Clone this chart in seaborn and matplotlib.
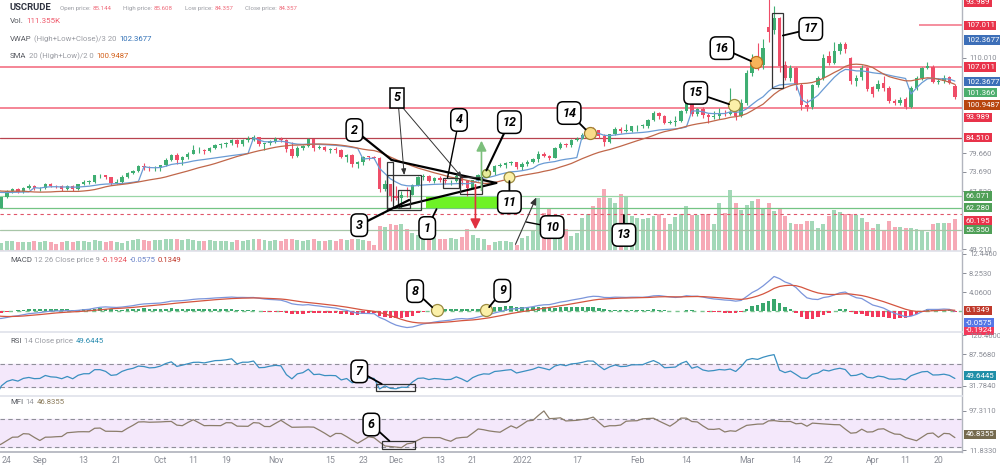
import numpy as np
import pandas as pd
import matplotlib
matplotlib.use("Agg")
import matplotlib.pyplot as plt
import matplotlib.transforms as mtransforms
from matplotlib.patches import Rectangle
import seaborn as sns

# ---------------- data ----------------
# history just before the visible window (only feeds indicator warm-up)
pre_dates = pd.bdate_range("2021-08-02", "2021-08-20")
pre_opens = [73.60, 71.26, 70.56, 68.15, 69.09, 68.28, 66.48, 68.29, 69.25, 69.09, 68.44, 67.29, 66.59, 65.46, 63.50]
pre_highs = [73.80, 71.60, 70.90, 69.50, 69.50, 68.30, 68.50, 69.50, 69.60, 69.10, 68.50, 67.60, 67.10, 65.60, 63.90]
pre_lows = [70.80, 70.20, 67.80, 67.80, 67.90, 65.20, 66.40, 68.00, 68.50, 68.00, 66.40, 66.30, 65.00, 62.90, 61.70]
pre_closes = [71.26, 70.56, 68.15, 69.09, 68.28, 66.48, 68.29, 69.25, 69.09, 68.44, 67.29, 66.59, 65.46, 63.50, 62.32]
pre_volumes = [22, 20, 24, 22, 20, 24, 22, 20, 18, 18, 20, 20, 22, 24, 26]

dates = pd.bdate_range("2021-08-23", "2022-04-25")
dates = dates[dates != pd.Timestamp("2022-04-15")]

opens = [
    62.30, 65.64, 67.54, 68.36, 67.42, 68.74, 69.21,
    68.50, 68.59, 69.99, 69.29, 69.10, 68.35, 69.30, 68.14, 69.72, 70.45, 70.46, 72.61, 72.61, 71.97, 70.29, 70.56, 72.23, 73.30, 73.98, 75.45, 75.29, 74.83,
    75.03, 75.88, 77.62, 78.93, 77.43, 78.30, 79.35, 80.52, 80.64, 80.44, 81.31, 82.28, 82.44, 82.96, 83.87, 82.50, 83.76, 83.76, 84.65, 82.66, 82.81,
    83.57, 84.05, 83.91, 80.86, 78.81, 81.27, 81.93, 84.15, 81.34, 81.59, 80.79, 80.88, 80.76, 78.36, 79.01, 76.10, 76.75, 78.50, 78.39, 78.20, 68.15, 69.95,
    66.18, 65.57, 66.50, 66.26, 69.49, 72.05, 72.36, 70.94, 71.67, 71.29, 70.73, 70.87, 72.38, 70.86, 68.61, 71.12, 72.76, 73.79, 73.60, 75.57, 75.98, 76.56, 76.99,
    75.21, 76.08, 76.99, 77.85, 79.46, 78.90, 78.23, 81.22, 82.64, 82.12, 83.82, 84.30, 85.43, 86.96, 86.90, 85.14, 83.31, 85.60, 87.35, 86.61, 86.82,
    88.15, 88.20, 88.26, 90.27, 92.31, 91.32, 89.36, 89.66, 89.88, 93.10, 95.46, 92.07, 93.66, 91.76, 91.07, 91.50, 92.35, 92.10, 92.81, 91.59,
    95.72, 105.0, 108.2, 107.7, 119.7, 118.7, 122.6, 107.6, 103.6, 106.6, 101.4, 94.8, 94.2, 101.2, 103.4, 110.6, 108.4, 112.0, 114.4, 110.0, 102.6, 103.8, 106.7,
    100.7, 100.0, 102.0, 100.3, 96.2, 95.7, 97.0, 94.3, 100.3, 103.5, 106.7, 107.0, 102.4, 102.6, 103.8, 101.0,
]
highs = [
    65.8, 67.9, 68.6, 68.7, 69.0, 69.9, 69.6,
    69.0, 70.1, 70.1, 69.6, 69.4, 69.6, 69.5, 69.9, 71.0, 71.2, 72.8, 73.0, 72.7, 72.1, 71.4, 72.6, 73.6, 74.2, 76.0, 76.5, 75.6, 75.6,
    76.0, 78.0, 79.5, 79.8, 78.6, 80.1, 82.2, 81.5, 81.0, 81.6, 82.6, 83.0, 83.1, 84.0, 84.0, 84.0, 85.2, 85.3, 84.7, 83.0, 83.8,
    84.8, 84.9, 84.1, 83.2, 81.8, 82.4, 84.6, 84.3, 82.2, 81.8, 81.2, 81.6, 80.9, 79.5, 79.3, 77.3, 78.8, 78.9, 78.8, 78.3, 71.0, 70.0,
    69.3, 67.6, 69.0, 69.9, 72.3, 72.9, 72.6, 72.0, 72.4, 71.7, 71.2, 72.9, 72.5, 70.9, 71.2, 73.2, 73.9, 74.0, 75.9, 76.6, 77.0, 77.2, 77.0,
    76.8, 77.6, 78.0, 80.2, 80.0, 79.1, 81.5, 83.1, 83.0, 84.2, 84.8, 86.0, 87.0, 87.9, 86.9, 85.7, 85.8, 87.9, 88.0, 88.8, 88.4,
    88.7, 89.0, 90.5, 93.2, 92.7, 91.7, 90.2, 91.3, 93.5, 95.8, 95.4, 94.0, 94.2, 92.3, 92.9, 94.0, 93.3, 100.5, 93.4, 96.8,
    106.0, 111.0, 114.6, 116.0, 130.5, 126.5, 123.0, 109.0, 107.5, 107.0, 101.8, 97.0, 101.6, 104.0, 111.0, 112.0, 115.0, 115.0, 114.8, 110.3, 104.5, 107.5, 107.0,
    101.0, 103.0, 104.0, 101.0, 97.0, 97.5, 97.5, 101.0, 104.0, 107.0, 108.6, 107.5, 103.5, 104.5, 104.2, 101.5,
]
lows = [
    62.1, 65.3, 67.0, 66.9, 67.0, 68.3, 68.0,
    67.6, 68.3, 68.8, 68.6, 67.6, 68.0, 67.6, 67.9, 69.4, 69.8, 70.2, 71.9, 71.3, 69.6, 69.9, 70.3, 71.9, 72.9, 73.8, 74.3, 73.9, 74.1,
    74.0, 75.6, 77.3, 76.1, 75.8, 77.8, 79.3, 79.6, 79.3, 80.0, 81.1, 81.3, 81.6, 82.1, 81.6, 82.0, 83.3, 83.6, 81.9, 80.6, 82.2,
    82.8, 83.2, 80.0, 78.2, 78.3, 80.8, 81.7, 80.5, 81.0, 80.2, 79.6, 79.8, 78.1, 76.9, 75.3, 75.1, 76.0, 77.4, 77.9, 67.4, 67.6, 64.5,
    64.8, 62.4, 65.8, 66.3, 69.2, 71.2, 70.4, 70.1, 70.6, 70.0, 69.5, 70.5, 69.6, 66.1, 68.3, 70.7, 72.3, 73.2, 72.6, 75.2, 75.0, 75.8, 74.6,
    74.3, 75.6, 76.6, 76.8, 78.4, 77.4, 78.0, 80.9, 81.5, 81.5, 83.6, 84.0, 84.7, 85.6, 84.4, 82.0, 82.9, 85.3, 86.1, 86.3, 86.4,
    86.6, 87.5, 87.8, 89.9, 90.6, 88.9, 88.8, 88.4, 89.5, 92.4, 91.6, 91.6, 90.9, 89.3, 90.6, 90.6, 91.3, 91.7, 90.1, 91.0,
    95.0, 104.2, 106.0, 106.4, 115.0, 117.5, 105.5, 102.8, 102.6, 99.8, 93.4, 93.0, 93.8, 100.8, 103.0, 107.5, 108.0, 111.0, 111.5, 101.5, 101.0, 103.0, 99.5,
    97.5, 99.5, 99.5, 95.5, 94.8, 95.0, 93.8, 94.0, 99.8, 103.0, 106.5, 102.0, 101.5, 102.0, 101.5, 97.0,
]
closes = [
    65.64, 67.54, 68.36, 67.42, 68.74, 69.21, 68.50,
    68.59, 69.99, 69.29, 69.10, 68.35, 69.30, 68.14, 69.72, 70.45, 70.46, 72.61, 72.61, 71.97, 70.29, 70.56, 72.23, 73.30, 73.98, 75.45, 75.29, 74.83, 75.03,
    75.88, 77.62, 78.93, 77.43, 78.30, 79.35, 80.52, 80.64, 80.44, 81.31, 82.28, 82.44, 82.96, 83.87, 82.50, 83.76, 83.76, 84.65, 82.66, 82.81, 83.57,
    84.05, 83.91, 80.86, 78.81, 81.27, 81.93, 84.15, 81.34, 81.59, 80.79, 80.88, 80.76, 78.36, 79.01, 76.10, 76.75, 78.50, 78.39, 78.20, 68.15, 69.95, 66.18,
    65.57, 66.50, 66.26, 69.49, 72.05, 72.36, 70.94, 71.67, 71.29, 70.73, 70.87, 72.38, 70.86, 68.61, 71.12, 72.76, 73.79, 73.60, 75.57, 75.98, 76.56, 76.99, 75.21,
    76.08, 76.99, 77.85, 79.46, 78.90, 78.23, 81.22, 82.64, 82.12, 83.82, 84.30, 85.43, 86.96, 86.90, 85.14, 83.31, 85.60, 87.35, 86.61, 86.82, 88.15,
    88.20, 88.26, 90.27, 92.31, 91.32, 89.36, 89.66, 89.88, 93.10, 95.46, 92.07, 93.66, 91.76, 91.07, 91.50, 92.35, 92.10, 92.81, 91.59, 95.72,
    105.0, 108.2, 107.7, 113.0, 118.0, 122.5, 107.2, 103.6, 106.6, 101.4, 94.8, 94.2, 101.2, 103.4, 110.0, 108.4, 112.0, 114.4, 112.6, 102.6, 103.4, 106.8, 100.0,
    98.4, 101.6, 100.2, 96.2, 95.7, 96.4, 94.3, 100.3, 103.5, 106.7, 107.4, 102.4, 102.6, 103.6, 102.0, 97.6,
]
volumes = [  # thousand ticks
    16, 20, 20, 18, 18, 18, 20,
    18, 20, 18, 14, 18, 20, 18, 20, 20, 18, 22, 20, 18, 20, 18, 16, 20, 22, 24, 22, 20, 22,
    22, 24, 24, 24, 22, 24, 22, 20, 20, 22, 20, 20, 20, 18, 22, 20, 22, 24, 24, 22, 20,
    22, 20, 24, 24, 22, 20, 22, 24, 20, 20, 22, 20, 24, 22, 24, 24, 22, 20, 12, 50, 48, 54,
    52, 54, 44, 36, 32, 30, 28, 26, 24, 24, 26, 24, 28, 44, 32, 26, 24, 12, 18, 20, 20, 18, 12,
    26, 30, 40, 106, 76, 86, 40, 54, 44, 30, 36, 66, 74, 90, 106, 124, 106, 96, 114, 110, 70,
    66, 64, 66, 70, 74, 66, 54, 68, 74, 90, 72, 72, 74, 74, 54, 96, 76, 122, 96, 82,
    92, 100, 104, 86, 96, 80, 86, 70, 56, 54, 54, 60, 60, 46, 54, 70, 82, 78, 74, 74, 72, 66, 58,
    46, 54, 42, 60, 48, 48, 46, 46, 44, 42, 38, 54, 56, 56, 56, 64,
]

tick_dates = ["2021-08-24", "2021-09-01", "2021-09-13", "2021-09-21", "2021-10-01", "2021-10-11",
              "2021-10-19", "2021-11-01", "2021-11-15", "2021-11-23", "2021-12-01", "2021-12-13",
              "2021-12-21", "2022-01-03", "2022-01-17", "2022-02-01", "2022-02-14", "2022-03-01",
              "2022-03-14", "2022-03-22", "2022-04-01", "2022-04-11", "2022-04-20"]
tick_labels = ["24", "Sep", "13", "21", "Oct", "11", "19", "Nov", "15", "23", "Dec", "13", "21",
               "2022", "17", "Feb", "14", "Mar", "14", "22", "Apr", "11", "20"]

red_levels = [107.011, 93.989]
dark_level = 84.510
green_levels = [66.071, 62.280]
dashed_level = 60.195
grey_level = 55.350

# ---------------- frame & indicators ----------------
all_dates = pre_dates.append(dates)
df = pd.DataFrame({
    "o": pre_opens + opens, "h": pre_highs + highs, "l": pre_lows + lows,
    "c": pre_closes + closes, "v": pre_volumes + volumes}, index=all_dates)
n_pre = len(pre_dates)
df["x"] = np.arange(len(df)) - n_pre
df["h"] = df[["h", "o", "c"]].max(axis=1)
df["l"] = df[["l", "o", "c"]].min(axis=1)

hl2 = (df["h"] + df["l"]) / 2
df["sma"] = hl2.rolling(20, min_periods=1).mean()
tp = (df["h"] + df["l"] + df["c"]) / 3
pv = tp * df["v"]
block = np.floor((df["x"] - 6) / 20)
df["vwap"] = pv.groupby(block).cumsum() / df["v"].groupby(block).cumsum()
ema12 = df["c"].ewm(span=12, adjust=False).mean()
ema26 = df["c"].ewm(span=26, adjust=False).mean()
df["macd"] = ema12 - ema26
df["sig"] = df["macd"].ewm(span=9, adjust=False).mean()
df["mh"] = df["macd"] - df["sig"]
delta = df["c"].diff()
ag = delta.clip(lower=0).ewm(alpha=1 / 14, adjust=False).mean()
al = (-delta).clip(lower=0).ewm(alpha=1 / 14, adjust=False).mean()
df["rsi"] = 100 - 100 / (1 + ag / al)
up = tp.diff()
pos_flow = pv.where(up > 0, 0.0).rolling(14, min_periods=1).sum()
neg_flow = pv.where(up < 0, 0.0).rolling(14, min_periods=1).sum()
df["mfi"] = 100 - 100 / (1 + pos_flow / neg_flow.replace(0, np.nan))

# ---------------- style ----------------
sns.set_theme(style="white")
plt.rcParams["font.family"] = ["Roboto", "DejaVu Sans"]

GREEN, RED = "#3fae72", "#ef4d68"
VGREEN, VRED = "#a3d8b8", "#f6a9b6"
GREY_TXT = "#8a8d96"
AXIS_C = "#b2b5be"
SEP_C = "#e0e3eb"

W, H = 1000, 467
fig = plt.figure(figsize=(10, 4.67), dpi=100)
fig.patch.set_facecolor("white")


def rect_px(top, bottom):
    return [0, 1 - bottom / H, 962 / W, (bottom - top) / H]


ax_vol = fig.add_axes(rect_px(0, 251))
ax = fig.add_axes(rect_px(0, 251), sharex=ax_vol)
ax_macd = fig.add_axes(rect_px(251, 331), sharex=ax_vol)
ax_rsi = fig.add_axes(rect_px(332, 395), sharex=ax_vol)
ax_mfi = fig.add_axes(rect_px(396, 452), sharex=ax_vol)
ax.patch.set_visible(False)

x = df["x"].values
is_up = (df["c"] >= df["o"]).values
ccol = np.where(is_up, GREEN, RED)

# volume
ax_vol.bar(x, df["v"].values, width=0.72, color=np.where(is_up, VGREEN, VRED), linewidth=0)
ax_vol.set_ylim(0, 502)
ax_vol.set_axis_off()

# price levels
for lv in red_levels:
    ax.axhline(lv, color="#f47c8d", lw=1.3, zorder=2)
ax.axhline(dark_level, color="#b8434f", lw=0.9, zorder=2)
ax.axhline(green_levels[0], color="#98d6a6", lw=0.9, zorder=2)
ax.axhline(green_levels[1], color="#74c484", lw=0.9, zorder=2)
ax.axhline(dashed_level, color="#e0566a", lw=0.8, ls=(0, (3, 3)), zorder=2)
ax.axhline(grey_level, color="#a8c6a8", lw=0.9, zorder=2)
ax.axhline(48.85, color="#e8a0a8", lw=0.8, ls=(0, (3, 3)), zorder=2)

# candles
ax.vlines(x, df["l"].values, df["h"].values, colors=ccol, lw=0.8, zorder=3)
body_b = np.minimum(df["o"].values, df["c"].values)
body_h = np.maximum(np.abs(df["c"].values - df["o"].values), 0.25)
ax.bar(x, body_h, bottom=body_b, width=0.62, color=ccol, linewidth=0, zorder=4)

# moving lines
sns.lineplot(x=x, y=df["vwap"].values, ax=ax, color="#6a9bd4", lw=0.9, zorder=5)
sns.lineplot(x=x, y=df["sma"].values, ax=ax, color="#c0674a", lw=0.9, zorder=5)

ax.set_ylim(48.6, 128.28)
ax.set_xlim(-0.27, 175.3)

# ghost overlay at the top right
ax.hlines(120.3, 167.5, 175.3, color="#f47c8d", lw=1.2, zorder=2)

# ---------------- MACD ----------------
mh = df["mh"].values
ax_macd.bar(x, mh, width=0.65, color=np.where(mh >= 0, "#3aa76d", "#f2395b"), linewidth=0, zorder=2)
ax_macd.axhline(0, color="#7cc48f", lw=1.0, ls=(0, (3, 3)), zorder=1)
sns.lineplot(x=x, y=df["macd"].values, ax=ax_macd, color="#7b95db", lw=0.9, zorder=3)
sns.lineplot(x=x, y=df["sig"].values, ax=ax_macd, color="#d4553f", lw=0.9, zorder=3)
ax_macd.set_ylim(-4.42, 13.09)

# ---------------- RSI ----------------
ax_rsi.axhspan(30, 70, color="#f4e8fb", zorder=0)
for lv in (30, 70):
    ax_rsi.axhline(lv, color="#8f8f99", lw=0.8, ls=(0, (4, 3)), zorder=1)
sns.lineplot(x=x, y=df["rsi"].values, ax=ax_rsi, color="#3a8fc0", lw=0.9, zorder=3)
ax_rsi.set_ylim(15.4, 126.4)

# ---------------- MFI ----------------
ax_mfi.axhspan(20, 80, color="#f4e8fb", zorder=0)
for lv in (20, 80):
    ax_mfi.axhline(lv, color="#8f8f99", lw=0.8, ls=(0, (4, 3)), zorder=1)
sns.lineplot(x=x, y=df["mfi"].values, ax=ax_mfi, color="#8b7d6b", lw=0.9, zorder=3)
ax_mfi.set_ylim(8.5, 129.8)

# ---------------- axes cosmetics ----------------
pos_of = dict(zip(df.index, df["x"]))
ax_mfi.set_xticks([pos_of[pd.Timestamp(d)] for d in tick_dates])
ax_mfi.set_xticklabels(tick_labels)

for a in (ax, ax_macd, ax_rsi, ax_mfi):
    a.set_xlabel("")
    a.set_ylabel("")
    a.yaxis.tick_right()
    a.tick_params(axis="y", labelsize=5.5, colors=GREY_TXT, length=3, width=0.7, pad=2)
    a.tick_params(axis="x", length=0, labelsize=6.3, colors=GREY_TXT, pad=3)
    for s in ("left", "top", "bottom"):
        a.spines[s].set_visible(False)
    a.spines["right"].set_color(AXIS_C)
    a.spines["right"].set_linewidth(1.0)
for a in (ax, ax_macd, ax_rsi):
    a.tick_params(axis="x", labelbottom=False)
for a in (ax_macd, ax_rsi, ax_mfi):
    a.spines["top"].set_visible(True)
    a.spines["top"].set_color(SEP_C)
ax_mfi.spines["bottom"].set_visible(True)
ax_mfi.spines["bottom"].set_color(AXIS_C)

ax.set_yticks([49.21, 67.52, 73.69, 79.66, 110.01])
ax.set_yticklabels(["49.210", "67.520", "73.690", "79.660", "110.010"])
ax_macd.set_yticks([4.06, 8.253, 12.446])
ax_macd.set_yticklabels(["4.0600", "8.2530", "12.4460"])
ax_rsi.set_yticks([31.784, 87.568, 120.46])
ax_rsi.set_yticklabels(["31.7840", "87.5680", "120.4600"])
ax_mfi.set_yticks([11.833, 97.311])
ax_mfi.set_yticklabels(["11.8330", "97.3110"])


def rlabel(a, y, text, fc):
    tr = mtransforms.blended_transform_factory(a.transAxes, a.transData)
    a.text(1.004, y, text, transform=tr, ha="left", va="center", fontsize=5.7, color="white",
           bbox=dict(boxstyle="square,pad=0.2", fc=fc, ec="none"), clip_on=False, zorder=20)


# main-panel value boxes (stacked where they would collide)
rlabel(ax, 127.5, "93.989", "#e8334a")
rlabel(ax, 120.3, "107.011", "#e8334a")
rlabel(ax, 115.6, "102.3677", "#3d6fb8")
rlabel(ax, 107.011, "107.011", "#e8334a")
rlabel(ax, 102.3677, "102.3677", "#3d6fb8")
rlabel(ax, 98.8, "101.366", "#4cae6e")
rlabel(ax, 94.95, "100.9487", "#b8460f")
rlabel(ax, 91.1, "93.989", "#e8334a")
rlabel(ax, 84.51, "84.510", "#e8334a")
rlabel(ax, 66.071, "66.071", "#4f9f57")
rlabel(ax, 62.28, "62.280", "#4f9f57")
rlabel(ax, 58.1, "60.195", "#e8334a")
rlabel(ax, 55.35, "55.350", "#4f9f57")
rlabel(ax_macd, -4.3, "-0.1924", "#f2395b")
rlabel(ax_macd, 0.1349, "0.1349", "#c0392b")
rlabel(ax_macd, -2.6, "-0.0575", "#5577e6")
rlabel(ax_rsi, 49.6445, "49.6445", "#1f8fa8")
rlabel(ax_mfi, 46.8355, "46.8355", "#756a4e")

# ---------------- annotations ----------------
def callout(a, label, box, target=None, lw=1.3, square=False):
    if target is not None:
        a.annotate("", xy=target, xytext=box,
                   arrowprops=dict(arrowstyle="-", color="black", lw=lw, shrinkA=0, shrinkB=0),
                   zorder=8, annotation_clip=False)
    style = "square,pad=0.3" if square else "round,pad=0.38,rounding_size=0.45"
    a.text(box[0], box[1], label, ha="center", va="center", fontsize=9, fontstyle="italic",
           fontweight="bold", color="black",
           bbox=dict(boxstyle=style, fc="white", ec="black", lw=1.1), zorder=9)


def frame(a, x0, x1, y0, y1, lw=0.9):
    a.add_patch(Rectangle((x0, y0), x1 - x0, y1 - y0, fill=False, ec="#333333", lw=lw, zorder=7))


def circle(a, xx, yy, s=75, fc="#fbf0a8", ec="#9a8a40"):
    a.scatter([xx], [yy], s=s, facecolor=fc, edgecolor=ec, linewidth=0.9, zorder=8)


# triangle / wedge
ax.add_patch(Rectangle((77.5, 62.28), 13.0, 3.4, fc="#6ef226", ec="none", zorder=6))
ax.plot([71.2, 90.3], [77.5, 70.2], color="black", lw=1.6, zorder=7)
ax.plot([71.7, 90.3], [62.25, 70.2], color="black", lw=1.6, zorder=7)
frame(ax, 70.3, 71.4, 62.3, 76.9)
frame(ax, 70.4, 76.6, 61.6, 72.7)
frame(ax, 72.4, 74.6, 62.25, 68.0)
frame(ax, 80.5, 83.5, 68.6, 71.8)
frame(ax, 83.7, 87.7, 66.7, 72.1)

ax.annotate("", xy=(87.6, 84.5), xytext=(87.6, 67.0),
            arrowprops=dict(arrowstyle="-|>,head_width=0.25,head_length=0.5", color="#7cbf7c", lw=1.2), zorder=7)
ax.annotate("", xy=(86.5, 54.6), xytext=(86.5, 70.5),
            arrowprops=dict(arrowstyle="-|>,head_width=0.25,head_length=0.5", color="#e03040", lw=1.2), zorder=7)
ax.annotate("", xy=(97.8, 66.4), xytext=(93.6, 49.9),
            arrowprops=dict(arrowstyle="-|>,head_width=0.15,head_length=0.35", color="#333333", lw=0.8), zorder=7)

# box 5 with two thin arrows
for tgt in [(73.5, 72.7), (84.1, 71.8)]:
    ax.annotate("", xy=tgt, xytext=(72.4, 95.8),
                arrowprops=dict(arrowstyle="-|>,head_width=0.12,head_length=0.3", color="#333333", lw=0.7,
                                shrinkA=0, shrinkB=0), zorder=7)
callout(ax, "5", (72.2, 97.2), square=True)
callout(ax, "4", (83.5, 90.2), (81.4, 71.8), lw=1.0)
callout(ax, "2", (64.4, 87.0), (71.2, 77.5), lw=1.6)
callout(ax, "3", (65.3, 56.8), (74.4, 64.8), lw=1.6)
callout(ax, "1", (77.7, 55.9), (79.4, 61.9))

circle(ax, 88.5, 73.4, s=34, fc="#e6eb9a", ec="#7a8a30")
circle(ax, 92.7, 72.1, s=60)
callout(ax, "12", (92.7, 89.5), (88.5, 74.2), lw=1.5)
callout(ax, "11", (92.7, 64.1), (92.7, 70.8))
callout(ax, "10", (100.5, 56.2), (95.8, 57.8), lw=1.0)
callout(ax, "13", (113.6, 53.7), (113.6, 60.0))

circle(ax, 107.4, 86.1, fc="#f9dc8a", ec="#a08030")
callout(ax, "14", (103.6, 92.4), (106.6, 87.2))
circle(ax, 133.7, 94.9)
callout(ax, "15", (126.7, 98.8), (132.8, 95.2))
circle(ax, 137.7, 108.6, fc="#f7b45a", ec="#c07020")
callout(ax, "16", (131.5, 113.0), (136.8, 108.9))
frame(ax, 140.6, 142.6, 100.3, 124.2)
callout(ax, "17", (147.7, 119.1), (142.6, 117.0))

# MACD / RSI / MFI marks
circle(ax_macd, 79.4, 0.18)
callout(ax_macd, "8", (75.5, 4.3), (78.6, 0.8))
circle(ax_macd, 88.5, 0.15)
callout(ax_macd, "9", (91.4, 4.4), (89.0, 0.8))
frame(ax_rsi, 68.4, 75.5, 22.4, 34.8)
callout(ax_rsi, "7", (65.3, 57.0), (69.4, 34.8))
frame(ax_mfi, 69.5, 75.5, 15.1, 32.4)
callout(ax_mfi, "6", (67.5, 68.0), (70.8, 32.4))

# ---------------- header / panel legends ----------------
renderer = fig.canvas.get_renderer()


def chain(xpx, ypx, parts, size, gap=2.6):
    xx = xpx
    for txt, col, wt in parts:
        t = fig.text(xx / W, 1 - ypx / H, txt, color=col, fontsize=size, fontweight=wt,
                     ha="left", va="center", zorder=30)
        bb = t.get_window_extent(renderer=renderer)
        xx += bb.width + gap


chain(10, 8, [("USCRUDE", "#2f3340", "bold")], 6.8)
for xp, lab, val in [(60, "Open price:", "85.144"), (123, "High price:", "85.608"),
                     (185, "Low price:", "84.357"), (245, "Close price:", "84.357")]:
    chain(xp, 8.5, [(lab, "#9a9ca3", "normal"), (val, "#ef6a7a", "normal")], 4.4, gap=1.6)
chain(10, 21, [("Vol.", "#55585f", "normal"), ("111.355K", "#ef5a6c", "normal")], 5.8)
chain(10, 39, [("VWAP", "#55585f", "normal"), ("(High+Low+Close)/3 20", "#9a9ca3", "normal"),
               ("102.3677", "#2f6fb5", "normal")], 5.6)
chain(10, 56, [("SMA", "#55585f", "normal"), ("20 (High+Low)/2 0", "#9a9ca3", "normal"),
               ("100.9487", "#d2601a", "normal")], 5.6)
chain(10, 260, [("MACD", "#55585f", "normal"), ("12 26 Close price 9", "#9a9ca3", "normal"),
                ("-0.1924", "#e8505b", "normal"), ("-0.0575", "#6a83c9", "normal"),
                ("0.1349", "#c0392b", "normal")], 5.6, gap=2.0)
chain(10, 341, [("RSI", "#55585f", "normal"), ("14 Close price", "#9a9ca3", "normal"),
                ("49.6445", "#2a8cb0", "normal")], 5.6)
chain(10, 402, [("MFI", "#55585f", "normal"), ("14", "#9a9ca3", "normal"),
                ("46.8355", "#8a7a5a", "normal")], 5.6)

fig.savefig("out.png", dpi=100, facecolor="white")
